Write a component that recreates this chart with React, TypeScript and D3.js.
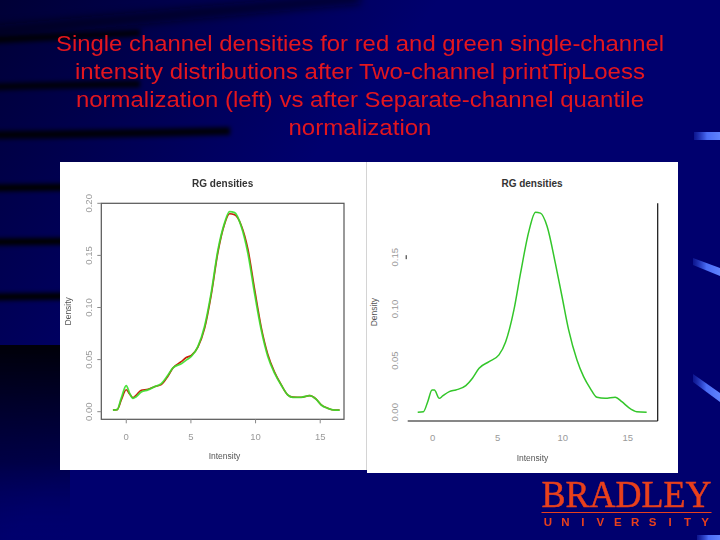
import * as d3 from "d3";

// Title lines of the slide
const titleLines = [
  "Single channel densities for red and green single-channel",
  "intensity distributions after Two-channel printTipLoess",
  "normalization (left) vs after Separate-channel quantile",
  "normalization",
];
const titleWidths = [608, 570, 568, 143];

// Left panel: printTipLoess, red and green channel densities
const leftIntensity = [
  -1.03, -0.7, -0.39, 0, 0.26, 0.52, 0.77, 1.16, 1.68, 2.19, 2.71, 3.22, 3.61,
  4.25, 4.64, 5.03, 5.54, 6.06, 6.57, 7.09, 7.6, 7.99, 8.38, 8.89, 9.41, 9.92,
  10.44, 10.95, 11.47, 11.98, 12.5, 12.89, 13.53, 14.18, 14.69, 15.08, 15.59,
  16.1, 16.5,
];
const leftRed = [
  0.0016, 0.002, 0.011, 0.021, 0.017, 0.0135, 0.016, 0.0205, 0.0215, 0.024,
  0.026, 0.034, 0.042, 0.048, 0.052, 0.054, 0.062, 0.08, 0.112, 0.153, 0.18,
  0.19, 0.189, 0.179, 0.156, 0.118, 0.081, 0.055, 0.038, 0.026, 0.016, 0.014,
  0.0138, 0.0154, 0.012, 0.0065, 0.0033, 0.0016, 0.0016,
];
const leftGreen = [
  0.0016, 0.002, 0.0128, 0.025, 0.0176, 0.0128, 0.0144, 0.019, 0.021, 0.024,
  0.027, 0.035, 0.042, 0.046, 0.0495, 0.053, 0.0625, 0.082, 0.114, 0.155,
  0.181, 0.192, 0.191, 0.178, 0.152, 0.114, 0.0785, 0.053, 0.037, 0.0256,
  0.016, 0.0138, 0.0138, 0.0154, 0.0119, 0.0064, 0.0032, 0.0016, 0.0016,
];

// Right panel: quantile normalization, both channels coincide
const rightIntensity = [
  -1.15, -0.71, -0.38, -0.05, 0.13, 0.51, 0.77, 1.28, 1.79, 2.55, 3.06, 3.57,
  4.34, 5.1, 5.61, 6.25, 6.76, 7.4, 7.91, 8.29, 8.8, 9.44, 9.95, 10.46, 11.1,
  11.61, 12.12, 12.63, 13.27, 14.04, 14.55, 15.06, 15.7, 16.46,
];
const rightDensity = [
  0, 0.0006, 0.0103, 0.0216, 0.0216, 0.0135, 0.0158, 0.02, 0.0216, 0.0258,
  0.033, 0.0426, 0.049, 0.0555, 0.068, 0.099, 0.1345, 0.175, 0.1935, 0.1926,
  0.18, 0.144, 0.112, 0.0797, 0.0506, 0.0345, 0.0232, 0.0145, 0.0135, 0.0145,
  0.0103, 0.0048, 0.0006, 0,
];

const xTicks = [0, 5, 10, 15];
const leftYTicks = [0, 0.05, 0.1, 0.15, 0.2];
const rightYTicks = [0, 0.05, 0.1, 0.15];

const universityLetters = "UNIVERSITY".split("");

const FONT = "'Liberation Sans', Arial, sans-serif";

function densityLine(
  x: d3.ScaleLinear<number, number>,
  y: d3.ScaleLinear<number, number>,
  xs: number[],
  ys: number[]
) {
  const pts: [number, number][] = xs.map((v, i) => [v, ys[i]]);
  return d3
    .line<[number, number]>()
    .x((d) => x(d[0]))
    .y((d) => y(d[1]))
    .curve(d3.curveMonotoneX)(pts) as string;
}

export default function App() {
  // left panel scales
  const xL = d3.scaleLinear().domain([-1.93, 16.84]).range([101.3, 344]);
  const yL = d3.scaleLinear().domain([-0.0073, 0.2]).range([419.3, 203.3]);
  // right panel scales
  const xR = d3.scaleLinear().domain([-1.92, 17.31]).range([407.7, 657.7]);
  const yR = d3.scaleLinear().domain([-0.0084, 0.2021]).range([421, 203.3]);

  const uni = d3
    .scaleBand<string>()
    .domain(universityLetters.map((c, i) => c + i))
    .range([541, 712])
    .paddingInner(0.2);

  const tickColor = "#9a9a9a";
  const labelColor = "#555";

  return (
    <svg
      width={720}
      height={540}
      style={{ position: "absolute", left: 0, top: 0, display: "block" }}
    >
      <defs>
        <linearGradient id="bgShade" x1="0" y1="0" x2="1" y2="0.6">
          <stop offset="0" stopColor="#000030" stopOpacity={0.9} />
          <stop offset="0.45" stopColor="#000030" stopOpacity={0} />
        </linearGradient>
        <linearGradient id="lowDark" x1="0" y1="0" x2="0" y2="1">
          <stop offset="0" stopColor="#000008" stopOpacity={1} />
          <stop offset="0.6" stopColor="#000030" stopOpacity={0.6} />
          <stop offset="1" stopColor="#000070" stopOpacity={0} />
        </linearGradient>
        <linearGradient id="blueBar" x1="0" y1="0" x2="1" y2="0">
          <stop offset="0" stopColor="#2a44d8" stopOpacity={0.3} />
          <stop offset="0.5" stopColor="#4a6cf5" />
          <stop offset="1" stopColor="#5f82ff" />
        </linearGradient>
        <filter id="soft" x="-10%" y="-100%" width="120%" height="300%">
          <feGaussianBlur stdDeviation="2" />
        </filter>
        <filter id="softer" x="-10%" y="-200%" width="120%" height="500%">
          <feGaussianBlur stdDeviation="4" />
        </filter>
      </defs>

      {/* slide background */}
      <rect x={0} y={0} width={720} height={540} fill="#00006e" />
      <rect x={0} y={0} width={720} height={540} fill="url(#bgShade)" />
      <path
        d="M-10,32 Q150,18 360,-2"
        fill="none"
        stroke="#000010"
        strokeWidth={12}
        opacity={0.55}
        filter="url(#softer)"
      />
      <g filter="url(#soft)" fill="none" stroke="#000005">
        <path d="M-10,40 Q60,37 140,33" strokeWidth={7} opacity={0.85} />
        <path d="M-10,87 Q60,85 140,84" strokeWidth={7} opacity={0.85} />
        <path d="M-10,135 Q100,134 230,131" strokeWidth={8} opacity={0.9} />
        <path d="M-10,188 L80,187" strokeWidth={7} />
        <path d="M-10,242 L80,241" strokeWidth={7} />
        <path d="M-10,297 L80,296" strokeWidth={7} />
      </g>
      <rect x={0} y={345} width={70} height={195} fill="url(#lowDark)" />

      {/* right edge decorations */}
      <g fill="url(#blueBar)">
        <rect x={694} y={132} width={26} height={8} />
        <path d="M693,258 L720,268 L720,276 L693,265 Z" />
        <path d="M693,374 L720,393 L720,402 L693,382 Z" />
        <rect x={697} y={535} width={23} height={5} />
      </g>

      {/* title */}
      <g fill="#e3161e" fontFamily={FONT} fontSize={22.5} textAnchor="middle">
        {titleLines.map((t, i) => (
          <text
            key={i}
            x={360}
            y={51 + i * 28}
            textLength={titleWidths[i]}
            lengthAdjust="spacingAndGlyphs"
          >
            {t}
          </text>
        ))}
      </g>

      {/* left panel */}
      <rect x={60} y={162} width={307} height={308} fill="#ffffff" />
      <line x1={366.5} y1={162} x2={366.5} y2={470} stroke="#d4d4d4" />
      <g fontFamily={FONT}>
        <text
          x={(xL.range()[0] + xL.range()[1]) / 2}
          y={186.5}
          textAnchor="middle"
          fontSize={10}
          fontWeight="bold"
          fill="#333"
        >
          RG densities
        </text>
        <rect
          x={xL.range()[0]}
          y={yL.range()[1]}
          width={xL.range()[1] - xL.range()[0]}
          height={yL.range()[0] - yL.range()[1]}
          fill="none"
          stroke="#555"
          strokeWidth={1.2}
        />
        {xTicks.map((t) => (
          <g key={t}>
            <line
              x1={xL(t)}
              x2={xL(t)}
              y1={yL.range()[0]}
              y2={yL.range()[0] + 4}
              stroke="#888"
            />
            <text
              x={xL(t)}
              y={440}
              textAnchor="middle"
              fontSize={9.5}
              fill={tickColor}
            >
              {t}
            </text>
          </g>
        ))}
        {leftYTicks.map((t) => (
          <g key={t}>
            <line
              x1={xL.range()[0] - 4}
              x2={xL.range()[0]}
              y1={yL(t)}
              y2={yL(t)}
              stroke="#888"
            />
            <text
              transform={`translate(92,${yL(t)}) rotate(-90)`}
              textAnchor="middle"
              fontSize={9.5}
              fill={tickColor}
            >
              {t.toFixed(2)}
            </text>
          </g>
        ))}
        <text
          transform={`translate(71,${(yL.range()[0] + yL.range()[1]) / 2}) rotate(-90)`}
          textAnchor="middle"
          fontSize={8.5}
          fill={labelColor}
        >
          Density
        </text>
        <text
          x={224.5}
          y={459}
          textAnchor="middle"
          fontSize={8.5}
          fill={labelColor}
        >
          Intensity
        </text>
        <path
          d={densityLine(xL, yL, leftIntensity, leftRed)}
          fill="none"
          stroke="#c8200a"
          strokeWidth={1.6}
        />
        <path
          d={densityLine(xL, yL, leftIntensity, leftGreen)}
          fill="none"
          stroke="#3adf2a"
          strokeWidth={1.8}
          opacity={0.9}
        />
      </g>

      {/* right panel */}
      <rect x={367} y={162} width={311} height={311} fill="#ffffff" />
      <g fontFamily={FONT}>
        <text
          x={532}
          y={186.5}
          textAnchor="middle"
          fontSize={10}
          fontWeight="bold"
          fill="#333"
        >
          RG densities
        </text>
        <line
          x1={xR.range()[0]}
          x2={xR.range()[1]}
          y1={yR.range()[0]}
          y2={yR.range()[0]}
          stroke="#111"
          strokeWidth={1.2}
        />
        <line
          x1={xR.range()[1]}
          x2={xR.range()[1]}
          y1={yR.range()[0]}
          y2={yR.range()[1]}
          stroke="#111"
          strokeWidth={1.2}
        />
        <line
          x1={xR.range()[0] - 1.5}
          x2={xR.range()[0] - 1.5}
          y1={yR(0.15) - 2}
          y2={yR(0.15) + 2}
          stroke="#222"
        />
        {xTicks.map((t) => (
          <text
            key={t}
            x={xR(t)}
            y={441}
            textAnchor="middle"
            fontSize={9.5}
            fill={tickColor}
          >
            {t}
          </text>
        ))}
        {rightYTicks.map((t) => (
          <text
            key={t}
            transform={`translate(397.5,${yR(t)}) rotate(-90)`}
            textAnchor="middle"
            fontSize={9.5}
            fill={tickColor}
          >
            {t.toFixed(2)}
          </text>
        ))}
        <text
          transform={`translate(376.5,${(yR.range()[0] + yR.range()[1]) / 2}) rotate(-90)`}
          textAnchor="middle"
          fontSize={8.5}
          fill={labelColor}
        >
          Density
        </text>
        <text
          x={532.5}
          y={461}
          textAnchor="middle"
          fontSize={8.5}
          fill={labelColor}
        >
          Intensity
        </text>
        <path
          d={densityLine(xR, yR, rightIntensity, rightDensity)}
          fill="none"
          stroke="#33c62a"
          strokeWidth={1.5}
        />
      </g>

      {/* university logo */}
      <text
        x={541.5}
        y={506.5}
        fontFamily="'Liberation Serif', 'Times New Roman', serif"
        fontSize={37}
        fill="#e8401c"
        stroke="#e8401c"
        strokeWidth={0.5}
        textLength={170}
        lengthAdjust="spacingAndGlyphs"
      >
        BRADLEY
      </text>
      <line x1={541.5} x2={711.5} y1={512.5} y2={512.5} stroke="#e8401c" />
      <g
        fontFamily={FONT}
        fontSize={11.5}
        fontWeight="bold"
        fill="#e8401c"
        textAnchor="middle"
      >
        {universityLetters.map((c, i) => (
          <text
            key={i}
            x={(uni(c + i) ?? 0) + uni.bandwidth() / 2}
            y={525.5}
          >
            {c}
          </text>
        ))}
      </g>
    </svg>
  );
}
